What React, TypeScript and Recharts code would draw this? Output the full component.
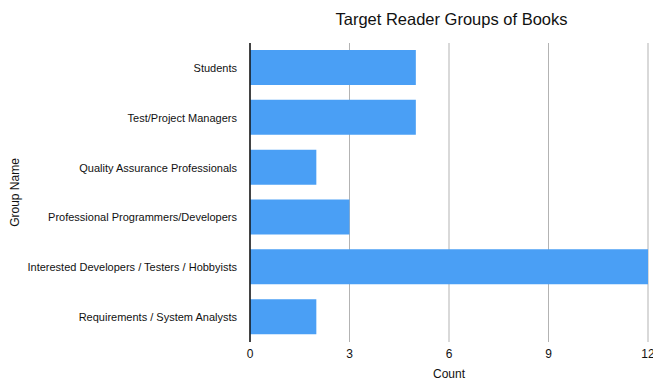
import { BarChart, Bar, XAxis, YAxis, CartesianGrid, Label } from "recharts";

const groups = [
  "Students",
  "Test/Project Managers",
  "Quality Assurance Professionals",
  "Professional Programmers/Developers",
  "Interested Developers / Testers / Hobbyists",
  "Requirements / System Analysts",
];
const counts = [5, 5, 2, 3, 12, 2];
const countTicks = [0, 3, 6, 9, 12];

const rows = groups.map((name, i) => ({ name, count: counts[i] }));

const font = "'Liberation Sans', Arial, Helvetica, sans-serif";

// single-line category label, right-aligned against the axis
function GroupTick(props: any) {
  const { x, y, payload } = props;
  return (
    <text x={x} y={y} dy={4} textAnchor="end" fill="#111" fontSize={11} fontFamily={font}>
      {payload.value}
    </text>
  );
}

export default function App() {
  return (
    <div style={{ position: "absolute", left: 0, top: 0, width: 653, height: 381, background: "#fff", fontFamily: font }}>
      <div
        style={{
          position: "absolute",
          left: 250,
          width: 403,
          top: 10,
          textAlign: "center",
          fontSize: 16.5,
          color: "#111",
        }}
      >
        Target Reader Groups of Books
      </div>
      <BarChart
        width={653}
        height={381}
        data={rows}
        layout="vertical"
        margin={{ top: 43, right: 5, bottom: 0, left: 0 }}
        barSize={35}
      >
        <CartesianGrid horizontal={false} stroke="#b3b3b3" strokeWidth={1} />
        <XAxis
          type="number"
          domain={[0, 12]}
          ticks={countTicks}
          axisLine={false}
          tickLine={false}
          tick={{ fill: "#111", fontSize: 12, fontFamily: font }}
          tickMargin={1}
          height={39}
          interval={0}
        >
          <Label value="Count" position="insideBottom" offset={3} style={{ fill: "#111", fontSize: 12, fontFamily: font }} />
        </XAxis>
        <YAxis
          type="category"
          dataKey="name"
          width={250}
          axisLine={{ stroke: "#111", strokeWidth: 1.5 }}
          tickLine={false}
          tick={<GroupTick />}
          tickMargin={7}
          interval={0}
        >
          <Label
            value="Group Name"
            angle={-90}
            position="insideLeft"
            offset={15}
            style={{ textAnchor: "middle", fill: "#111", fontSize: 12, fontFamily: font }}
          />
        </YAxis>
        <Bar dataKey="count" fill="#4a9ff5" isAnimationActive={false} />
      </BarChart>
    </div>
  );
}
